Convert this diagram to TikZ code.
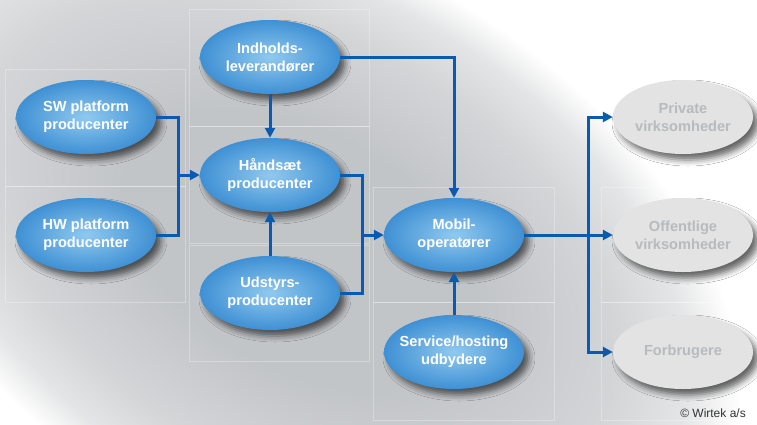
\documentclass[tikz,border=0pt]{standalone}
\usepackage{fontspec}
\setmainfont{Liberation Sans}
\usetikzlibrary{shapes.geometric,arrows.meta,shadows.blur}
\definecolor{conn}{HTML}{0A5BB0}
\definecolor{blin}{HTML}{90C9EF}
\definecolor{blout}{HTML}{3F90D4}
\definecolor{gfill}{HTML}{E2E3E2}
\definecolor{gtext}{HTML}{B8BBBE}
\definecolor{bgA}{HTML}{C2C5C8}
\definecolor{bgB}{HTML}{D3D5D7}
\definecolor{bgC}{HTML}{E4E5E6}
\pgfdeclareradialshading{bgsh}{\pgfpoint{0bp}{0bp}}{color(0bp)=(bgA); color(10bp)=(bgA); color(18bp)=(bgB); color(22bp)=(bgC); color(25bp)=(white); color(50bp)=(white)}
\tikzset{
  ell/.style={ellipse, minimum width=140pt, minimum height=74pt, inner xsep=-10pt, inner ysep=0pt,
    align=center, font=\bfseries\fontsize{14.6}{18}\selectfont,
    blur shadow={shadow xshift=5pt, shadow yshift=-6pt, shadow blur radius=6pt, shadow opacity=60}},
  blue/.style={ell, shade, inner color=blin, outer color=blout, text=white},
  grey/.style={ell, fill=gfill, text=gtext},
  link/.style={draw=conn, line width=3pt, line join=miter},
  arr/.style={link, -{Triangle[length=10pt,width=10pt]}},
  faint/.style={draw=white, draw opacity=0.28, line width=1pt}
}
\begin{document}
\begin{tikzpicture}[x=1pt,y=-1pt]
\useasboundingbox (0,0) rectangle (757,424);
\fill[white] (0,0) rectangle (757,424);
\begin{scope}
\clip (0,0) rectangle (757,424);
\begin{scope}[transform canvas={shift={(300,250)}, rotate=-30}]
\shade[shading=bgsh] (0,0) ellipse [x radius=480, y radius=295];
\end{scope}
% faint boxes
\draw[faint] (5,69) rectangle (185,186);
\draw[faint] (5,186) rectangle (185,302);
\draw[faint] (189,9) rectangle (369,126);
\draw[faint] (189,126) rectangle (369,243);
\draw[faint] (189,245) rectangle (369,361);
\draw[faint] (373,187) rectangle (554,302);
\draw[faint] (373,302) rectangle (554,420);
\draw[faint] (601,187) rectangle (770,302);
\draw[faint] (601,302) rectangle (770,420);
\end{scope}
% nodes
\node[blue] (sw)   at (86,117)  {SW platform\\producenter};
\node[blue] (hw)   at (86,235)  {HW platform\\producenter};
\node[blue] (ind)  at (270,57)  {Indholds-\\leverandører};
\node[blue] (hand) at (270,175) {Håndsæt\\producenter};
\node[blue] (uds)  at (270,293) {Udstyrs-\\producenter};
\node[blue] (mob)  at (454,235) {Mobil-\\operatører};
\node[blue] (svc)  at (454,352) {Service/hosting\\udbydere};
\node[grey] (priv) at (683,117) {Private\\virksomheder};
\node[grey] (off)  at (683,235) {Offentlige\\virksomheder};
\node[grey] (forb) at (683,352) {Forbrugere};
\node[text=black!80, font=\fontsize{12}{14}\selectfont] (copy) at (713,413) {© Wirtek a/s};
% connectors
\coordinate (jL) at (178,175);
\coordinate (jM) at (362,235);
\coordinate (jR) at (588,235);
\draw[link] (sw.east) -| (jL);
\draw[link] (hw.east) -| (jL);
\draw[arr] (jL) -- (hand.west);
\draw[arr] (ind.south) -- (hand.north);
\draw[arr] (ind.east) -| (mob.north);
\draw[link] (hand.east) -| (jM);
\draw[link] (uds.east) -| (jM);
\draw[arr] (jM) -- (mob.west);
\draw[arr] (uds.north) -- (hand.south);
\draw[arr] (svc.north) -- (mob.south);
\draw[link] (mob.east) -- (jR);
\draw[arr] (jR) -- (off.west);
\draw[arr] (jR) |- (priv.west);
\draw[arr] (jR) |- (forb.west);
\end{tikzpicture}
\end{document}
